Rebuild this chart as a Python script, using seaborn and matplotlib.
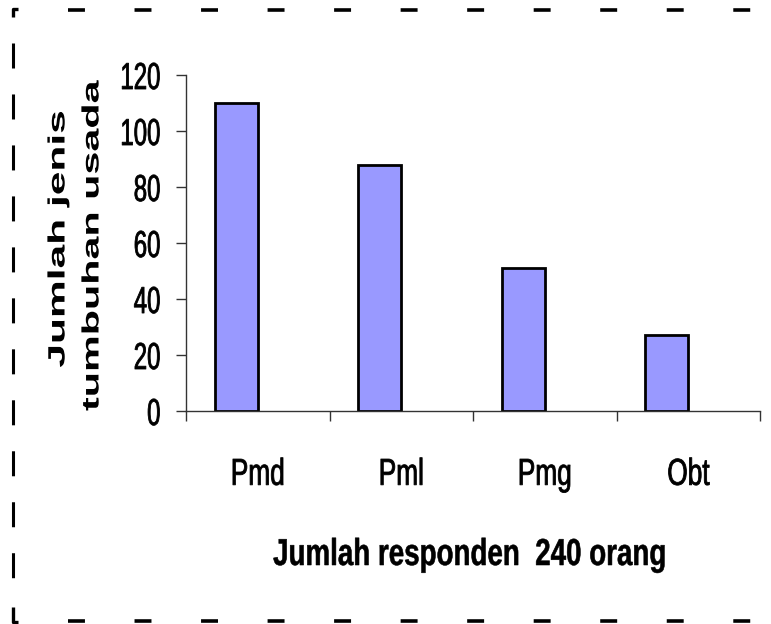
import matplotlib
matplotlib.use("Agg")
import matplotlib.pyplot as plt
from matplotlib.lines import Line2D
from matplotlib.patheffects import AbstractPathEffect
from matplotlib.transforms import Affine2D, IdentityTransform
import seaborn as sns
import pandas as pd

categories = ["Pmd", "Pml", "Pmg", "Obt"]
jumlah_jenis = [110, 88, 51, 27]
y_ticks = [0, 20, 40, 60, 80, 100, 120]


class Squeeze(AbstractPathEffect):
    """Scale text along its own direction (poor man's Arial Narrow),
    with an optional outline to keep the strokes heavy enough."""

    def __init__(self, sx, anchor="center", stroke=0.0):
        super().__init__()
        self.sx = sx
        self.anchor = anchor
        self.stroke = stroke

    def draw_path(self, renderer, gc, tpath, affine, rgbFace=None):
        ext = tpath.get_extents()
        if self.anchor == "right":
            cx = ext.x1
        elif self.anchor == "left":
            cx = ext.x0
        else:
            cx = (ext.x0 + ext.x1) / 2
        pre = Affine2D().translate(-cx, 0).scale(self.sx, 1).translate(cx, 0)
        gc0 = renderer.new_gc()
        gc0.copy_properties(gc)
        if self.stroke > 0 and rgbFace is not None:
            gc0.set_linewidth(self.stroke)
            gc0.set_foreground(rgbFace)
        renderer.draw_path(gc0, tpath, pre + affine, rgbFace)
        gc0.restore()


sns.set_theme(style="white")
plt.rcParams["font.family"] = ["Liberation Sans", "DejaVu Sans"]
plt.rcParams["text.color"] = "black"
plt.rcParams["lines.scale_dashes"] = False

df = pd.DataFrame({"kategori": categories, "jumlah": jumlah_jenis})

W, H = 771, 624
fig = plt.figure(figsize=(W / 100, H / 100), dpi=100)
ax = fig.add_axes([186 / W, 1 - 411 / H, (760 - 186) / W, (411 - 75) / H])

sns.barplot(data=df, x="kategori", y="jumlah", ax=ax, color="#9999FF",
            saturation=1, width=0.3, edgecolor="black", linewidth=2)
# excel-style: bars sit left of the category centre
for p in ax.patches:
    p.set_x(p.get_x() - p.get_width() / 2)

ax.set_xlim(-0.5, 3.5)
ax.set_ylim(0, 120)
ax.set_yticks(y_ticks)
ax.set_xticks(range(len(categories)))
ax.set_xticklabels(categories)
ax.set_xticks([-0.5, 0.5, 1.5, 2.5, 3.5], minor=True)
ax.tick_params(axis="x", which="major", length=0, pad=33, labelsize=27, labelcolor="black")
ax.tick_params(axis="x", which="minor", length=7, width=1, color="#333333", direction="out", bottom=True)
ax.tick_params(axis="y", length=7, width=1, color="#333333", direction="out", left=True,
               pad=11, labelsize=27, labelcolor="black")
for lbl in ax.get_xticklabels():
    lbl.set_path_effects([Squeeze(0.70, stroke=0.6)])
for lbl in ax.get_yticklabels():
    lbl.set_path_effects([Squeeze(0.64, "right", stroke=0.6)])

for side in ["top", "right"]:
    ax.spines[side].set_visible(False)
for side in ["left", "bottom"]:
    ax.spines[side].set_color("#333333")
    ax.spines[side].set_linewidth(1)

ax.set_xlabel("")
ax.set_ylabel("")
fig.text(470 / W, 1 - 555 / H, "Jumlah responden  240 orang", ha="center", va="center",
         fontsize=27, fontweight="bold", path_effects=[Squeeze(0.74, stroke=0.4)])
fig.text(58 / W, 1 - 239 / H, "Jumlah jenis", ha="center", va="center",
         rotation=90, fontsize=17, fontweight="bold", path_effects=[Squeeze(1.8)])
fig.text(92 / W, 1 - 245 / H, "tumbuhan usada", ha="center", va="center",
         rotation=90, fontsize=17, fontweight="bold", path_effects=[Squeeze(1.75)])

# dashed frame round the picture (open on the right), pixel coordinates
px = IdentityTransform()
hdash = dict(color="black", linewidth=2.6, linestyle=(0, (12.2, 35.7)), transform=px)
vdash = dict(color="black", linewidth=2.2, linestyle=(0, (18, 18.7)), transform=px)
solid = dict(color="black", linewidth=2.4, transform=px, solid_capstyle="butt")
fig.add_artist(Line2D([68, W], [H - 10, H - 10], **hdash))
fig.add_artist(Line2D([68, W], [H - 621, H - 621], **hdash))
fig.add_artist(Line2D([12.5, 12.5], [H - 43, H - 600], **vdash))
fig.add_artist(Line2D([18, 12.5, 12.5], [H - 9, H - 9, H - 17], **solid))
fig.add_artist(Line2D([12.5, 12.5, 18], [H - 607, H - 622, H - 622], **solid))

fig.savefig("out.png", dpi=100, facecolor="white")
